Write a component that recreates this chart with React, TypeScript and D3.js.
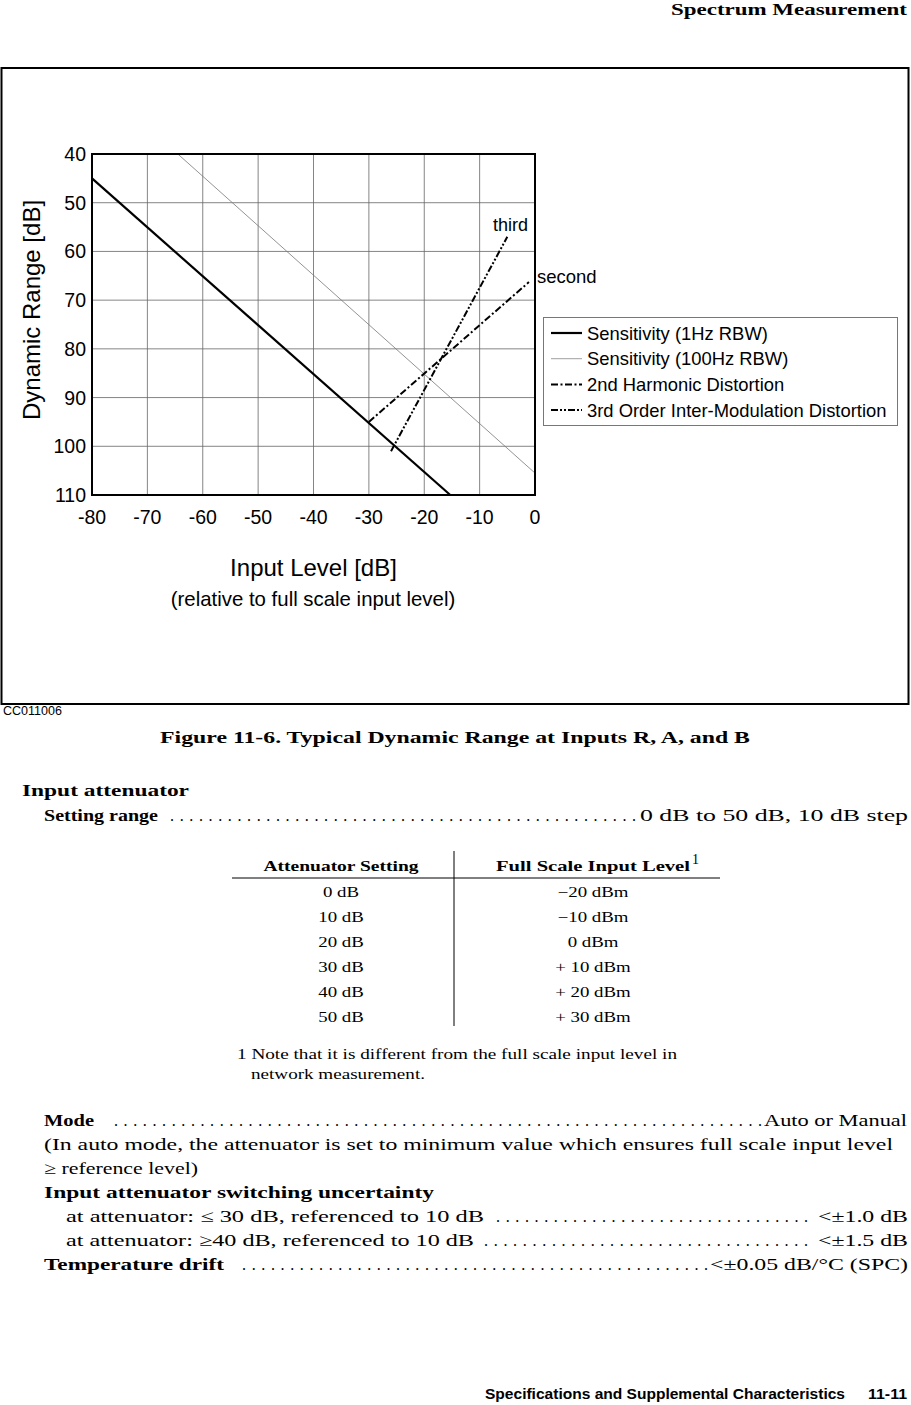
import React from "react";
import * as d3 from "d3";

const xTicks = [-80, -70, -60, -50, -40, -30, -20, -10, 0];
const yTicks = [40, 50, 60, 70, 80, 90, 100, 110];

type P = { x: number; y: number };
const sens1Hz: P[] = [{ x: -80, y: 45 }, { x: -15.3, y: 110 }];
const sens100Hz: P[] = [{ x: -64.5, y: 40 }, { x: 0, y: 105.5 }];
const harm2: P[] = [{ x: -30, y: 95 }, { x: -1.1, y: 66.3 }];
const im3: P[] = [{ x: -26, y: 101 }, { x: -5, y: 57 }];

const legendItems = [
  { label: "Sensitivity (1Hz RBW)", w: 2.2, dash: "", color: "#000" },
  { label: "Sensitivity (100Hz RBW)", w: 0.7, dash: "", color: "#777" },
  { label: "2nd Harmonic Distortion", w: 2, dash: "7,2.5,2,2.5", color: "#000" },
  { label: "3rd Order Inter-Modulation Distortion", w: 2, dash: "7,2,2,2,2,2", color: "#000" },
];

const attSettings = ["0 dB", "10 dB", "20 dB", "30 dB", "40 dB", "50 dB"];
const fullScale = ["\u221220 dBm", "\u221210 dBm", "0 dBm", "+ 10 dBm", "+ 20 dBm", "+ 30 dBm"];

const SANS = "'Liberation Sans', Arial, sans-serif";
const SERIF = "'Liberation Serif', 'Times New Roman', serif";
const NARROW = "'Liberation Sans Narrow', 'Liberation Sans', Arial, sans-serif";

const Dots = ({ x1, x2, y }: { x1: number; x2: number; y: number }) => {
  const n = Math.floor((x2 - x1) / 9.4);
  const s = d3.range(n).map(() => ".").join("");
  return (
    <text x={x1} y={y} fontFamily={SERIF} fontSize={16} textLength={x2 - x1} lengthAdjust="spacing">
      {s}
    </text>
  );
};

export default function App() {
  const L = 92, R = 535, T = 154, B = 495;
  const x = d3.scaleLinear().domain([-80, 0]).range([L, R]);
  const y = d3.scaleLinear().domain([40, 110]).range([T, B]);
  const line = d3.line<P>().x((d) => x(d.x)).y((d) => y(d.y));

  return (
    <svg width={911} height={1405} style={{ position: "absolute", left: 0, top: 0, background: "#fff" }}>
      <rect width={911} height={1405} fill="#fff" />
      {/* header */}
      <text x={907} y={15} textAnchor="end" fontFamily={SERIF} fontWeight="bold" fontSize={17} textLength={236} lengthAdjust="spacingAndGlyphs">
        Spectrum Measurement
      </text>

      {/* outer frame */}
      <rect x={1.5} y={68} width={907} height={636} fill="none" stroke="#000" strokeWidth={2} />

      {/* grid */}
      {xTicks.slice(1, -1).map((t) => (
        <line key={"gx" + t} x1={x(t)} x2={x(t)} y1={T} y2={B} stroke="#666" strokeWidth={0.8} />
      ))}
      {yTicks.slice(1, -1).map((t) => (
        <line key={"gy" + t} x1={L} x2={R} y1={y(t)} y2={y(t)} stroke="#666" strokeWidth={0.8} />
      ))}

      {/* series */}
      <path d={line(sens100Hz) || ""} stroke="#777" strokeWidth={0.8} fill="none" />
      <path d={line(sens1Hz) || ""} stroke="#000" strokeWidth={2.2} fill="none" />
      <path d={line(harm2) || ""} stroke="#000" strokeWidth={2} strokeDasharray="7,2.5,2,2.5" fill="none" />
      <path d={line(im3) || ""} stroke="#000" strokeWidth={2} strokeDasharray="7,2,2,2,2,2" fill="none" />

      {/* plot border */}
      <rect x={L} y={T} width={R - L} height={B - T} fill="none" stroke="#000" strokeWidth={2} />

      {/* ticks labels */}
      {yTicks.map((t) => (
        <text key={"yl" + t} x={86} y={y(t) + 7} textAnchor="end" fontFamily={SANS} fontSize={19.5}>
          {t}
        </text>
      ))}
      {xTicks.map((t) => (
        <text key={"xl" + t} x={x(t)} y={524} textAnchor="middle" fontFamily={SANS} fontSize={19.5}>
          {t}
        </text>
      ))}

      {/* annotations */}
      <text x={493} y={231} fontFamily={SANS} fontSize={18}>third</text>
      <text x={537} y={283} fontFamily={SANS} fontSize={18.5}>second</text>

      {/* axis titles */}
      <text transform="translate(40,310) rotate(-90)" textAnchor="middle" fontFamily={SANS} fontSize={24}>
        Dynamic Range [dB]
      </text>
      <text x={313.5} y={576} textAnchor="middle" fontFamily={SANS} fontSize={24}>
        Input Level [dB]
      </text>
      <text x={313} y={606} textAnchor="middle" fontFamily={SANS} fontSize={20.4}>
        (relative to full scale input level)
      </text>

      {/* legend */}
      <rect x={543.5} y={317.5} width={354} height={108} fill="#fff" stroke="#777" strokeWidth={1} />
      {legendItems.map((it, i) => {
        const yy = 333 + i * 25.7;
        return (
          <g key={it.label}>
            <line x1={551} x2={582} y1={yy} y2={yy} stroke={it.color} strokeWidth={it.w} strokeDasharray={it.dash} />
            <text x={587} y={yy + 6.5} fontFamily={SANS} fontSize={18.4}>
              {it.label}
            </text>
          </g>
        );
      })}

      <text x={3} y={715} fontFamily={SANS} fontSize={12.5}>CC011006</text>

      {/* caption */}
      <text x={455} y={743} textAnchor="middle" fontFamily={SERIF} fontWeight="bold" fontSize={17} textLength={590} lengthAdjust="spacingAndGlyphs">
        Figure 11-6. Typical Dynamic Range at Inputs R, A, and B
      </text>

      {/* specs */}
      <text x={22} y={796} fontFamily={SERIF} fontWeight="bold" fontSize={17} textLength={167} lengthAdjust="spacingAndGlyphs">Input attenuator</text>
      <text x={44} y={821} fontFamily={SERIF} fontWeight="bold" fontSize={17} textLength={114} lengthAdjust="spacingAndGlyphs">Setting range</text>
      <Dots x1={170} x2={636} y={821} />
      <text x={908} y={821} textAnchor="end" fontFamily={SERIF} fontSize={17} textLength={268} lengthAdjust="spacingAndGlyphs">0 dB to 50 dB, 10 dB step</text>

      {/* table */}
      <text x={341} y={871} textAnchor="middle" fontFamily={SERIF} fontWeight="bold" fontSize={14} textLength={155} lengthAdjust="spacingAndGlyphs">Attenuator Setting</text>
      <text x={496} y={871} fontFamily={SERIF} fontWeight="bold" fontSize={14} textLength={194} lengthAdjust="spacingAndGlyphs">Full Scale Input Level</text>
      <text x={692} y={864} fontFamily={SERIF} fontSize={14}>1</text>
      <line x1={454} x2={454} y1={851} y2={1026} stroke="#000" strokeWidth={1} />
      <line x1={232} x2={720} y1={878} y2={878} stroke="#000" strokeWidth={1} />
      {attSettings.map((s, i) => (
        <g key={s}>
          <text transform={`translate(341,${897 + i * 25}) scale(1.3,1)`} textAnchor="middle" fontFamily={SERIF} fontSize={14.5}>{s}</text>
          <text transform={`translate(593,${897 + i * 25}) scale(1.3,1)`} textAnchor="middle" fontFamily={SERIF} fontSize={14.5}>{fullScale[i]}</text>
        </g>
      ))}
      <text x={237} y={1059} fontFamily={SERIF} fontSize={14.5} textLength={440} lengthAdjust="spacingAndGlyphs">1 Note that it is different from the full scale input level in</text>
      <text x={251} y={1079} fontFamily={SERIF} fontSize={14.5} textLength={174} lengthAdjust="spacingAndGlyphs">network measurement.</text>

      <text x={44} y={1126} fontFamily={SERIF} fontWeight="bold" fontSize={17} textLength={50} lengthAdjust="spacingAndGlyphs">Mode</text>
      <Dots x1={114} x2={762} y={1126} />
      <text x={907} y={1126} textAnchor="end" fontFamily={SERIF} fontSize={17} textLength={143} lengthAdjust="spacingAndGlyphs">Auto or Manual</text>
      <text x={44} y={1150} fontFamily={SERIF} fontSize={17} textLength={849} lengthAdjust="spacingAndGlyphs">(In auto mode, the attenuator is set to minimum value which ensures full scale input level</text>
      <text x={44} y={1174} fontFamily={SERIF} fontSize={17} textLength={154} lengthAdjust="spacingAndGlyphs">{"\u2265 reference level)"}</text>
      <text x={44} y={1198} fontFamily={SERIF} fontWeight="bold" fontSize={17} textLength={390} lengthAdjust="spacingAndGlyphs">Input attenuator switching uncertainty</text>
      <text x={66} y={1222} fontFamily={SERIF} fontSize={17} textLength={418} lengthAdjust="spacingAndGlyphs">{"at attenuator:  \u2264 30 dB, referenced to 10 dB"}</text>
      <Dots x1={496} x2={808} y={1222} />
      <text x={908} y={1222} textAnchor="end" fontFamily={SERIF} fontSize={17} textLength={90} lengthAdjust="spacingAndGlyphs">{"<\u00b11.0 dB"}</text>
      <text x={66} y={1246} fontFamily={SERIF} fontSize={17} textLength={408} lengthAdjust="spacingAndGlyphs">{"at attenuator:  \u226540 dB, referenced to 10 dB"}</text>
      <Dots x1={484} x2={808} y={1246} />
      <text x={908} y={1246} textAnchor="end" fontFamily={SERIF} fontSize={17} textLength={90} lengthAdjust="spacingAndGlyphs">{"<\u00b11.5 dB"}</text>
      <text x={44} y={1270} fontFamily={SERIF} fontWeight="bold" fontSize={17} textLength={180} lengthAdjust="spacingAndGlyphs">Temperature drift</text>
      <Dots x1={242} x2={708} y={1270} />
      <text x={908} y={1270} textAnchor="end" fontFamily={SERIF} fontSize={17} textLength={198} lengthAdjust="spacingAndGlyphs">{"<\u00b10.05 dB/\u00b0C (SPC)"}</text>

      {/* footer */}
      <text x={485} y={1399} fontFamily={NARROW} fontWeight="bold" fontSize={15} textLength={360} lengthAdjust="spacingAndGlyphs">Specifications and Supplemental Characteristics</text>
      <text x={907} y={1399} textAnchor="end" fontFamily={NARROW} fontWeight="bold" fontSize={15} textLength={39} lengthAdjust="spacingAndGlyphs">11-11</text>
    </svg>
  );
}
